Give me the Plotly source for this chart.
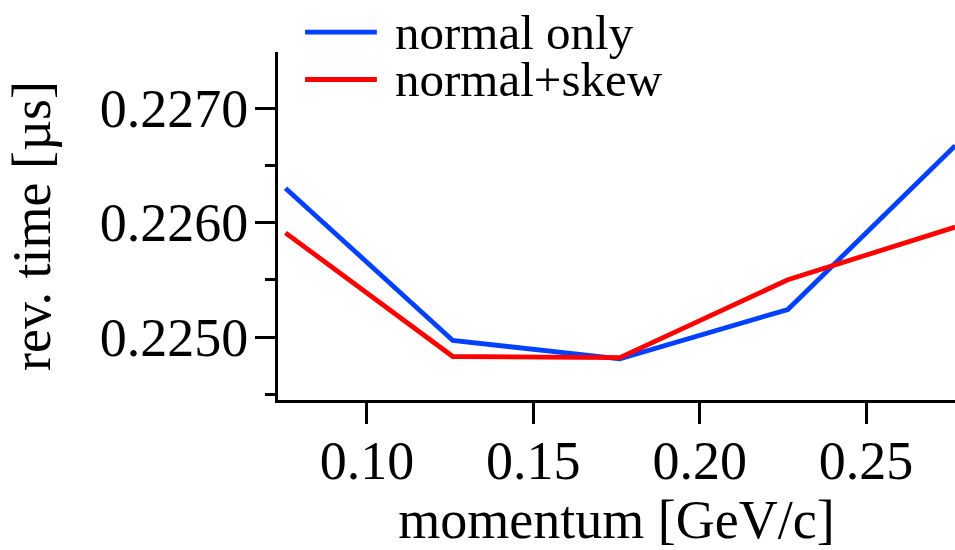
import plotly.graph_objects as go

# ---- data ----
momentum = [0.0755, 0.1258, 0.1760, 0.2265, 0.2768]
normal_only = [0.22630, 0.22497, 0.22481, 0.22524, 0.22667]
normal_skew = [0.22591, 0.22483, 0.22482, 0.22550, 0.22596]
series_names = ["normal only", "normal+skew"]
series_colors = ["#0040ff", "#ff0000"]
x_ticks = [0.10, 0.15, 0.20, 0.25]
y_ticks = [0.2250, 0.2260, 0.2270]

FONT = "Liberation Serif, Times New Roman, serif"

fig = go.Figure()
for name, ys, col in zip(series_names, [normal_only, normal_skew], series_colors):
    fig.add_trace(go.Scatter(x=momentum, y=ys, mode="lines", name=name,
                             line=dict(color=col, width=4.8), showlegend=False))

# manual legend with long line samples
leg_y = [1.057, 0.921]
for name, col, yy in zip(series_names, series_colors, leg_y):
    fig.add_shape(type="line", xref="paper", yref="paper",
                  x0=0.040, x1=0.146, y0=yy, y1=yy,
                  line=dict(color=col, width=4.8))
    fig.add_annotation(xref="paper", yref="paper", x=0.170, y=yy,
                       xanchor="left", yanchor="middle", text=name,
                       showarrow=False, font=dict(family=FONT, size=49, color="black"))

fig.update_layout(
    width=955, height=550,
    margin=dict(l=278, r=0, t=52, b=150),
    paper_bgcolor="white", plot_bgcolor="white",
    font=dict(family=FONT, size=54, color="black"),
)
fig.update_xaxes(
    range=[0.07325, 0.27675],
    tickvals=x_ticks, ticktext=[f"{v:.2f}" for v in x_ticks],
    ticks="outside", ticklen=21, tickwidth=2.5, tickcolor="black",
    ticklabelstandoff=-10,
    showline=True, linecolor="black", linewidth=3,
    showgrid=False, zeroline=False,
    title=dict(text="momentum [GeV/c]", standoff=14, font=dict(size=54)),
)
fig.update_yaxes(
    range=[0.22445, 0.227489],
    tickvals=y_ticks, ticktext=[f"{v:.4f}" for v in y_ticks],
    ticks="outside", ticklen=20, tickwidth=2.5, tickcolor="black",
    ticklabelstandoff=-4,
    minor=dict(tickvals=[0.2245, 0.2255, 0.2265], ticks="outside", ticklen=10,
               tickwidth=2.5, tickcolor="black", showgrid=False),
    showline=True, linecolor="black", linewidth=3,
    showgrid=False, zeroline=False,
    title=dict(text="rev. time [µs]", standoff=32, font=dict(size=54)),
)

fig.write_html("out.html")
